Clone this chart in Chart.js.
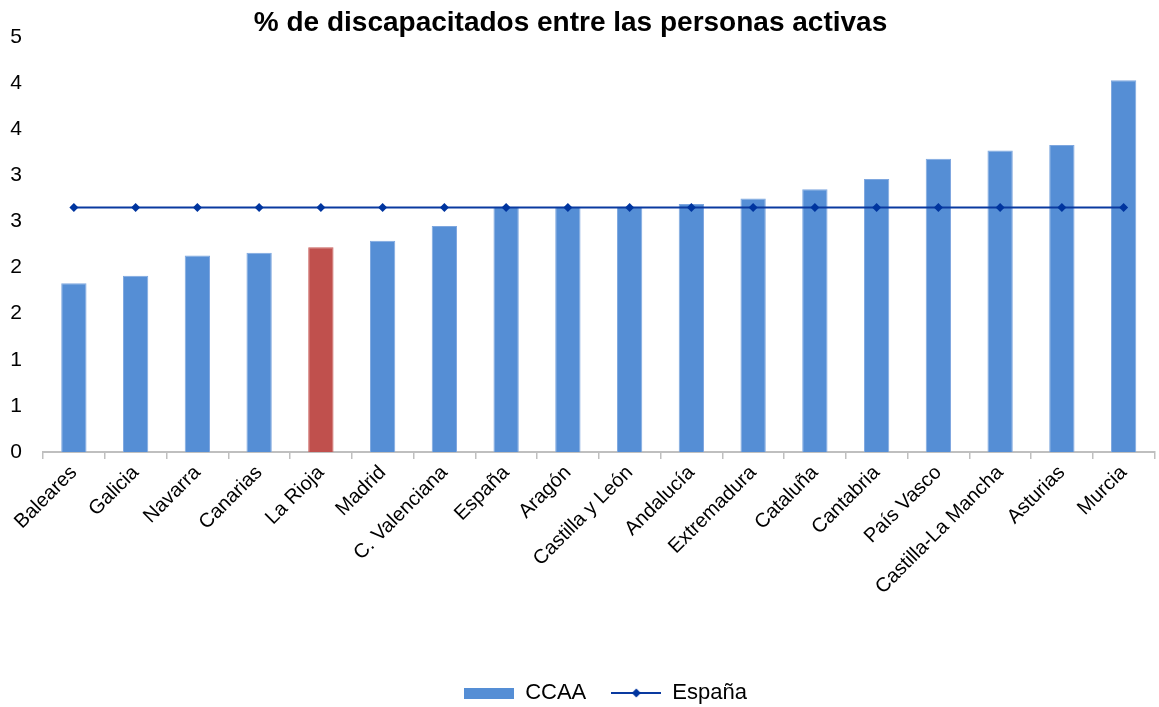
<!DOCTYPE html>
<html>
<head>
<meta charset="utf-8">
<script src="https://cdn.jsdelivr.net/npm/chart.js@4.4.1/dist/chart.umd.min.js"></script>
<style>
  html, body { margin: 0; padding: 0; background: #fff; }
  #wrap { width: 1159px; height: 707px; position: relative; }
</style>
</head>
<body>
<div id="wrap"><canvas id="c" width="1159" height="707"></canvas></div>
<script>
const chartTitle = '% de discapacitados entre las personas activas';
const categories = ['Baleares', 'Galicia', 'Navarra', 'Canarias', 'La Rioja', 'Madrid', 'C. Valenciana', 'España', 'Aragón', 'Castilla y León', 'Andalucía', 'Extremadura', 'Cataluña', 'Cantabria', 'País Vasco', 'Castilla-La Mancha', 'Asturias', 'Murcia'];
const ccaaValues = [1.83, 1.91, 2.13, 2.16, 2.22, 2.29, 2.45, 2.66, 2.66, 2.66, 2.69, 2.75, 2.85, 2.96, 3.18, 3.27, 3.33, 4.03];
const espanaValues = [2.65, 2.65, 2.65, 2.65, 2.65, 2.65, 2.65, 2.65, 2.65, 2.65, 2.65, 2.65, 2.65, 2.65, 2.65, 2.65, 2.65, 2.65];
const yTickLabels = ['0', '1', '1', '2', '2', '3', '3', '4', '4', '5'];
const highlighted = 'La Rioja';

const BAR = '#558ED5';
const BAR_HI = '#C0504D';
const LINE = '#0A3AA0';
const MARK = '#00359F';
const FONT = "'Liberation Sans', Arial, Helvetica, sans-serif";

function makeIcon(kind) {
  const c = document.createElement('canvas');
  c.width = 50; c.height = 12;
  const g = c.getContext('2d');
  if (kind === 'bar') {
    g.fillStyle = BAR;
    g.fillRect(0, 1, 50, 11);
  } else {
    g.strokeStyle = LINE; g.lineWidth = 2;
    g.beginPath(); g.moveTo(0, 6); g.lineTo(50, 6); g.stroke();
    g.fillStyle = MARK;
    g.beginPath(); g.moveTo(25, 1.5); g.lineTo(29.5, 6); g.lineTo(25, 10.5); g.lineTo(20.5, 6); g.closePath(); g.fill();
  }
  return c;
}
const icons = [makeIcon('bar'), makeIcon('line')];

const shiftPlugin = {
  id: 'shiftPlugin',
  afterLayout(chart) {
    const t = chart.titleBlock;
    if (t) { t.right -= 14; t.width = t.right - t.left; }
    const l = chart.legend;
    if (l) { l.top += 7; l.bottom += 7; l.left += 28; l.right += 28; }
  }
};

new Chart(document.getElementById('c'), {
  data: {
    labels: categories,
    datasets: [
      {
        type: 'bar',
        label: 'CCAA',
        data: ccaaValues,
        backgroundColor: categories.map(c => c === highlighted ? BAR_HI : BAR),
        borderColor: categories.map(c => c === highlighted ? '#C95E5B' : '#7EA7DF'),
        borderWidth: 1,
        barPercentage: 0.41,
        categoryPercentage: 1.0,
        order: 1
      },
      {
        type: 'line',
        label: 'España',
        data: espanaValues,
        borderColor: LINE,
        borderWidth: 2,
        backgroundColor: MARK,
        pointBackgroundColor: MARK,
        pointBorderColor: MARK,
        pointStyle: 'rectRot',
        pointRadius: 4.5,
        pointBorderWidth: 0,
        fill: false,
        tension: 0,
        order: 0
      }
    ]
  },
  options: {
    responsive: false,
    animation: false,
    devicePixelRatio: 1,
    layout: { padding: { left: 0, right: 4, top: 0, bottom: 0 } },
    plugins: {
      title: {
        display: true,
        text: chartTitle,
        color: '#000',
        font: { family: FONT, size: 28, weight: 'bold', lineHeight: 1.0 },
        padding: { top: 9, bottom: 0 }
      },
      legend: {
        display: true,
        position: 'bottom',
        labels: {
          color: '#000',
          font: { family: FONT, size: 22 },
          usePointStyle: true,
          pointStyleWidth: 50,
          padding: 25,
          generateLabels: (chart) => chart.data.datasets.map((ds, i) => ({
            text: ds.label,
            pointStyle: icons[i],
            fillStyle: i === 0 ? BAR : MARK,
            strokeStyle: i === 0 ? BAR : LINE,
            lineWidth: 0,
            hidden: false,
            datasetIndex: i,
            fontColor: '#000'
          }))
        }
      },
      tooltip: { enabled: false }
    },
    scales: {
      x: {
        type: 'category',
        offset: true,
        grid: { display: true, offset: true, drawOnChartArea: false, drawTicks: true, tickLength: 7, color: '#BFBFBF', lineWidth: 1.5 },
        border: { display: true, color: '#BFBFBF', width: 2 },
        ticks: {
          color: '#000',
          font: { family: FONT, size: 20 },
          maxRotation: 45,
          minRotation: 45,
          autoSkip: false,
          padding: 2
        },
        afterFit: (scale) => { scale.height = 198; }
      },
      y: {
        min: 0,
        max: 4.5,
        grid: { display: false },
        border: { display: false },
        ticks: {
          stepSize: 0.5,
          color: '#000',
          font: { family: FONT, size: 21 },
          padding: 13,
          callback: (v, i) => yTickLabels[i]
        },
        afterFit: (scale) => { scale.width = 43; }
      }
    }
  },
  plugins: [shiftPlugin]
});
</script>
</body>
</html>
